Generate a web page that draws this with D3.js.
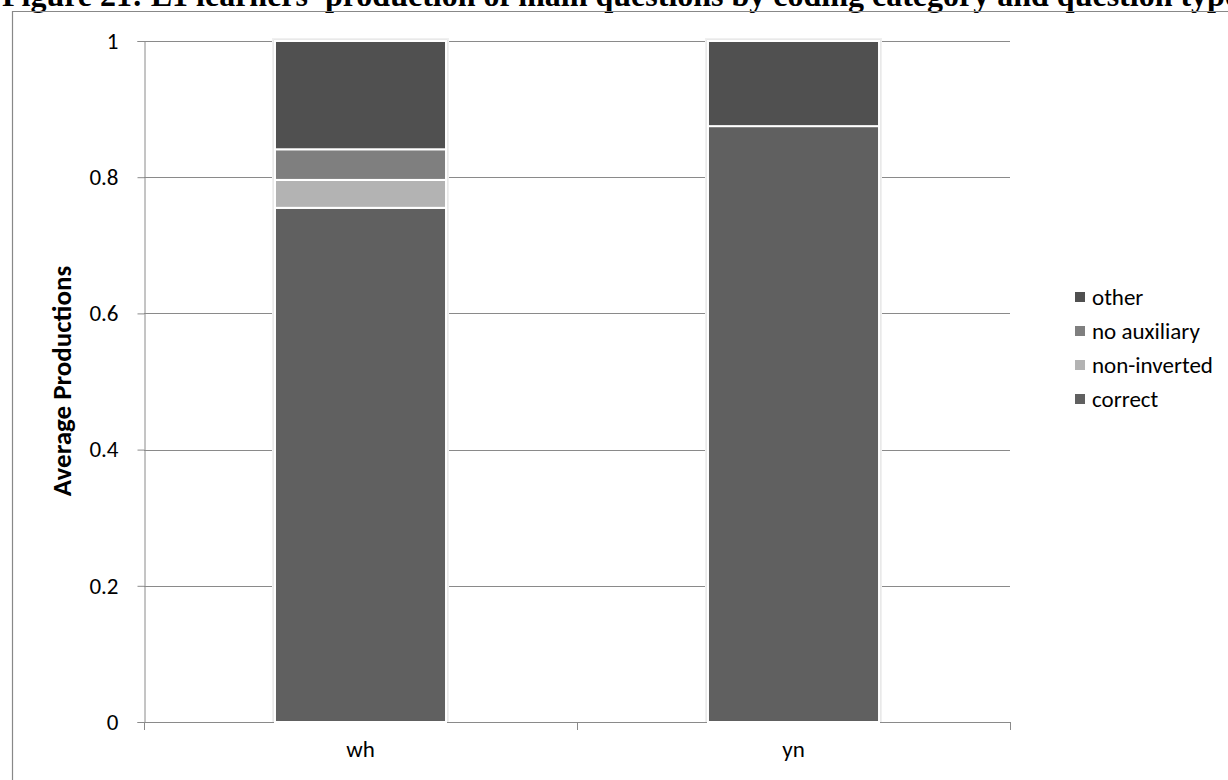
<!DOCTYPE html>
<html><head><meta charset="utf-8">
<script src="https://cdn.jsdelivr.net/npm/d3@7"></script>
<style>body{margin:0;background:#fff;overflow:hidden}svg{display:block}</style>
</head><body>
<svg id="c" width="1228" height="780"></svg>
<script>
const categories = ["wh", "yn"];
const seriesNames = ["correct", "non-inverted", "no auxiliary", "other"];
const correct = [0.755, 0.875];
const nonInverted = [0.041, 0];
const noAuxiliary = [0.045, 0];
const other = [0.159, 0.125];
const yTicks = [0, 0.2, 0.4, 0.6, 0.8, 1];
const colors = ["#606060", "#b3b3b3", "#7f7f7f", "#505050"];
const titleText = "Figure 21: L1 learners' production of main questions by coding category and question type";
const yTitle = "Average Productions";

const rows = categories.map((c, i) => ({cat: c, "correct": correct[i], "non-inverted": nonInverted[i], "no auxiliary": noAuxiliary[i], "other": other[i]}));
const stack = d3.stack().keys(seriesNames)(rows);

const svg = d3.select("#c");
const m = {l: 144, r: 1010, t: 41, b: 722};
const x = d3.scaleBand().domain(categories).range([m.l, m.r]).paddingInner(0.605).paddingOuter(0.3025);
const y = d3.scaleLinear().domain([0, 1]).range([m.b, m.t]);
const font = "Carlito, Lato, 'Open Sans', sans-serif";
const fs = 23;

// title
svg.append("text").attr("x", 2).attr("y", 6).attr("font-family", "'Liberation Serif', 'Times New Roman', serif")
  .attr("font-weight", "bold").attr("font-size", 32).attr("fill", "#000").text(titleText);
// frame
svg.append("path").attr("d", "M12.5,780 V11.5 H1228").attr("fill", "none").attr("stroke", "#888").attr("stroke-width", 1.2);

// gridlines
svg.append("g").selectAll("line").data(yTicks.filter(d => d > 0)).join("line")
  .attr("x1", m.l).attr("x2", m.r).attr("y1", d => Math.round(y(d)) + 0.5).attr("y2", d => Math.round(y(d)) + 0.5)
  .attr("stroke", "#8a8a8a").attr("stroke-width", 1);

// y axis
const ya = svg.append("g").attr("transform", `translate(${m.l + 0.5},0)`)
  .call(d3.axisLeft(y).tickValues(yTicks).tickSize(7).tickPadding(19).tickFormat(d => d3.format("")(d)));
ya.select(".domain").attr("stroke", "#8a8a8a");
ya.selectAll(".tick line").attr("stroke", "#8a8a8a");
ya.selectAll("text").attr("font-family", font).attr("font-size", fs).attr("fill", "#000");

// x axis
const xa = svg.append("g").attr("transform", `translate(0,${m.b + 0.5})`)
  .call(d3.axisBottom(x).tickSize(0).tickPadding(18));
xa.select(".domain").attr("stroke", "#8a8a8a").attr("d", `M${m.l},0H${m.r}`);
xa.selectAll("text").attr("font-family", font).attr("font-size", fs).attr("fill", "#000");
svg.append("g").selectAll("line").data([0, 1, 2]).join("line")
  .attr("x1", i => m.l + 0.5 + i * (m.r - m.l) / 2).attr("x2", i => m.l + 0.5 + i * (m.r - m.l) / 2)
  .attr("y1", m.b).attr("y2", m.b + 8).attr("stroke", "#8a8a8a");

// bar shadows
svg.append("g").selectAll("rect").data(categories).join("rect")
  .attr("x", d => x(d) - 3).attr("width", x.bandwidth() + 6)
  .attr("y", y(1) - 3).attr("height", y(0) - y(1) + 3)
  .attr("fill", "#f0f0f0");
svg.append("g").selectAll("rect").data(categories).join("rect")
  .attr("x", d => x(d) - 1.5).attr("width", x.bandwidth() + 3)
  .attr("y", y(1) - 1.5).attr("height", y(0) - y(1) + 1.5)
  .attr("fill", "#e2e2e2");

// bars
svg.append("g").selectAll("g").data(stack).join("g").attr("fill", (d, i) => colors[i])
  .selectAll("rect").data(d => d.filter(s => s[1] - s[0] > 0)).join("rect")
  .attr("x", d => x(d.data.cat)).attr("width", x.bandwidth())
  .attr("y", d => y(d[1])).attr("height", d => y(d[0]) - y(d[1]))
  .attr("stroke", "#fff").attr("stroke-width", 2);

// y title
svg.append("text").attr("transform", `translate(71,381) rotate(-90)`).attr("text-anchor", "middle")
  .attr("font-family", font).attr("font-weight", "bold").attr("font-size", 27).attr("fill", "#000").text(yTitle);

// legend
const legendOrder = seriesNames.slice().reverse();
const lg = svg.append("g").selectAll("g").data(legendOrder).join("g")
  .attr("transform", (d, i) => `translate(1075,${297 + i * 34})`);
lg.append("rect").attr("x", 0).attr("y", -5).attr("width", 10).attr("height", 10)
  .attr("fill", d => colors[seriesNames.indexOf(d)]);
lg.append("text").attr("x", 17).attr("y", 8).attr("font-family", font).attr("font-size", fs).attr("fill", "#000").text(d => d);
</script>
</body></html>
